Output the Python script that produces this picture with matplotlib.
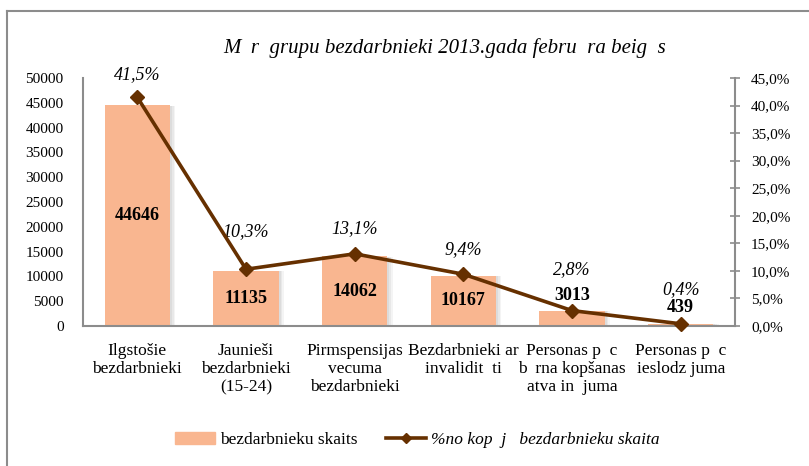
import matplotlib.pyplot as plt
from matplotlib.lines import Line2D
from matplotlib.patches import Patch

plt.rcParams['font.family'] = ['Liberation Serif', 'DejaVu Serif']

categories = ['Ilgstošie\nbezdarbnieki', 'Jaunieši\nbezdarbnieki\n(15-24)',
              'Pirmspensijas\nvecuma\nbezdarbnieki', 'Bezdarbnieki ar\ninvalidit  ti',
              'Personas p  c\nb  rna kopšanas\natva in  juma', 'Personas p  c\nieslodz juma']
counts = [44646, 11135, 14062, 10167, 3013, 439]
shares = [41.5, 10.3, 13.1, 9.4, 2.8, 0.4]
share_labels = ['41,5%', '10,3%', '13,1%', '9,4%', '2,8%', '0,4%']

bar_color = '#F9B690'
line_color = '#663000'
gray = '#8C8C8C'

fig = plt.figure(figsize=(8.09, 4.66), dpi=100)
ax = fig.add_axes([0.1026, 0.3004, 0.806, 0.5322])
ax2 = ax.twinx()

x = list(range(len(counts)))
# soft shadow behind bars
for dx, a in [(0.05, 0.10), (0.035, 0.12), (0.02, 0.15)]:
    ax.bar([i + dx for i in x], [c * 0.995 for c in counts], width=0.6,
           color='#999999', alpha=a, zorder=1, linewidth=0)
ax.bar(x, counts, width=0.6, color=bar_color, zorder=2, linewidth=0)

ax.set_xlim(-0.5, 5.5)
ax.set_ylim(0, 50000)
ax.set_yticks(range(0, 50001, 5000))
ax.set_xticks(x)
ax.set_xticklabels(categories, fontsize=12.5, linespacing=1.2)
ax.tick_params(axis='x', length=0, pad=12)
ax.tick_params(axis='y', length=0, labelsize=11, pad=14)

for side in ['top', 'right']:
    ax.spines[side].set_visible(False)
for side in ['left', 'bottom']:
    ax.spines[side].set_color(gray)
    ax.spines[side].set_linewidth(1.5)

# bar value labels: inside tall bars, just above short ones
for i, c in enumerate(counts):
    if c > 8000:
        ax.text(i, c / 2, str(c), ha='center', va='center', fontsize=13,
                fontweight='bold', zorder=5)
    else:
        ax.annotate(str(c), (i, c), xytext=(0, 11.5), textcoords='offset points',
                    ha='center', va='center', fontsize=13, fontweight='bold', zorder=5)

ax2.plot(x, shares, color=line_color, linewidth=2.6, marker='D', markersize=7.5,
         zorder=4, clip_on=False)
ax2.set_ylim(0, 45)
ax2.set_yticks([i * 5 for i in range(10)])
ax2.set_yticklabels([('%.1f' % (i * 5)).replace('.', ',') + '%' for i in range(10)])
ax2.tick_params(axis='y', direction='inout', length=7, color=gray, width=1.2,
                labelsize=11, pad=8)
for side in ['top', 'left', 'bottom']:
    ax2.spines[side].set_visible(False)
ax2.spines['right'].set_color(gray)
ax2.spines['right'].set_linewidth(1.5)

label_offsets = [16, 27, 18, 18, 29.5, 24.5]
for i, (s, lab) in enumerate(zip(shares, share_labels)):
    ax2.annotate(lab, (i, s), xytext=(0, label_offsets[i]), textcoords='offset points',
                 ha='center', va='center', fontsize=13, style='italic')

fig.text(0.55, 0.897, 'M  r  grupu bezdarbnieki 2013.gada febru  ra beig  s',
         ha='center', va='center', fontsize=15, style='italic')

handles = [Patch(color=bar_color),
           Line2D([0], [0], color=line_color, linewidth=2.6, marker='D', markersize=5)]
leg = fig.legend(handles, ['bezdarbnieku skaits', '%no kop  j   bezdarbnieku skaita'],
                 loc='center', bbox_to_anchor=(0.516, 0.055), ncol=2, frameon=False,
                 fontsize=12.5, handlelength=2.3, columnspacing=1.6, handletextpad=0.3)
leg.get_texts()[1].set_style('italic')

# outer frame (left and top edges visible)
fig.add_artist(Line2D([0.0087, 0.0087], [0.0, 0.976], color=gray, linewidth=1.5,
                      transform=fig.transFigure))
fig.add_artist(Line2D([0.0087, 1.0], [0.976, 0.976], color=gray, linewidth=1.5,
                      transform=fig.transFigure))

fig.savefig('out.png', dpi=100)
